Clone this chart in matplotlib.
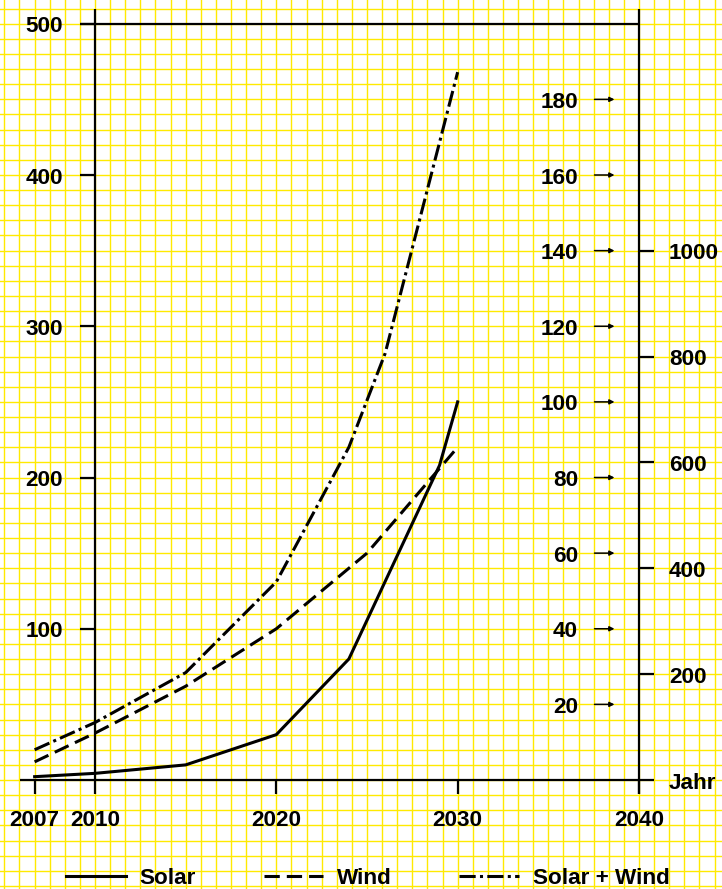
import matplotlib
matplotlib.use("Agg")
import matplotlib.pyplot as plt
import numpy as np

plt.rcParams["font.family"] = ["Liberation Sans", "DejaVu Sans"]
plt.rcParams["font.weight"] = "bold"

# --- data (left-axis units) ---
# 2007 sits four grid cells left of 2010 on the paper (not to scale)
years_solar = [2006.67, 2010, 2015, 2020, 2024, 2029, 2030]
solar = [2.2, 4.4, 10, 30, 80, 208, 250]

years_wind = [2006.67, 2010, 2015, 2020, 2025, 2030]
wind = [12, 31, 62, 100, 150, 220]

years_sum = [2006.67, 2010, 2015, 2020, 2024, 2026, 2030]
solar_wind = [20, 38, 71, 131, 220, 282, 468]

left_ticks = [100, 200, 300, 400, 500]
mid_ticks = [20, 40, 60, 80, 100, 120, 140, 160, 180]   # 200 -> 500 on left scale
right_ticks = [200, 400, 600, 800, 1000]                 # 1000 -> 350 on left scale
MID_SCALE = 2.5
RIGHT_SCALE = 0.35

year_ticks = [2006.67, 2020, 2030, 2040]
year_labels = [(2006.67, "2007"), (2010, "2010"), (2020, "2020"),
               (2030, "2030"), (2040, "2040")]

GRID = "#FFEA00"
FS = 16.2
DY = -2.0  # nudge text down so digits sit centred on their tick

fig = plt.figure(figsize=(7.22, 8.89), dpi=100)
ax = fig.add_axes([0, 0, 1, 1])
ax.set_xlim(2004.76, 2044.58)
ax.set_ylim(-72.06, 515.7)

# graph paper
ax.set_xticks(2010 + np.arange(-6, 42) * 10 / 12)
ax.set_yticks(np.arange(-70, 520, 10))
ax.tick_params(length=0, labelbottom=False, labelleft=False)
ax.grid(True, color=GRID, linewidth=1.0)
for s in ax.spines.values():
    s.set_visible(False)

# frame lines
AX_LW = 1.6
ax.hlines(0, 2005.86, 2040.83, color="black", lw=AX_LW)
ax.hlines(500, 2009.17, 2040, color="black", lw=AX_LW)
ax.vlines([2010, 2040], -9.3, 509.7, color="black", lw=AX_LW)

# left axis ticks + labels
ax.hlines(left_ticks, 2009.17, 2010, color="black", lw=AX_LW)
for v in left_ticks:
    ax.text(2008.24, v + DY, str(v), ha="right", va="center", fontsize=FS)

# bottom ticks + labels
ax.vlines(year_ticks, -9.3, 0, color="black", lw=AX_LW)
for x, t in year_labels:
    ax.text(x, -25.1 + DY, t, ha="center", va="center", fontsize=FS)
ax.text(2041.65, DY, "Jahr", ha="left", va="center", fontsize=FS)

# middle axis labels with arrows
for v in mid_ticks:
    y = v * MID_SCALE
    ax.text(2036.64, y + DY, str(v), ha="right", va="center", fontsize=FS)
    ax.annotate("", xy=(2038.65, y), xytext=(2037.55, y),
                arrowprops=dict(arrowstyle="-|>", lw=1.1, color="black",
                                mutation_scale=7, shrinkA=0, shrinkB=0))

# right axis ticks + labels
for v in right_ticks:
    y = v * RIGHT_SCALE
    ax.hlines(y, 2040, 2040.83, color="black", lw=AX_LW)
    ax.text(2041.65, y + DY, str(v), ha="left", va="center", fontsize=FS)

# data lines
LW = 2.2
ax.plot(years_solar, solar, color="black", lw=LW, label="Solar")
ax.plot(years_wind, wind, color="black", lw=LW, dashes=(5, 2.3), label="Wind")
ax.plot(years_sum, solar_wind, color="black", lw=LW,
        dashes=(5.3, 1.4, 1.0, 1.4), label="Solar + Wind")

ax.legend(loc="center", bbox_to_anchor=(0.5097, 11.0 / 889), ncol=3,
          frameon=False, fontsize=FS, handlelength=2.65, handletextpad=0.62,
          columnspacing=3.0, borderpad=0, borderaxespad=0)

fig.savefig("out.png", dpi=100)
